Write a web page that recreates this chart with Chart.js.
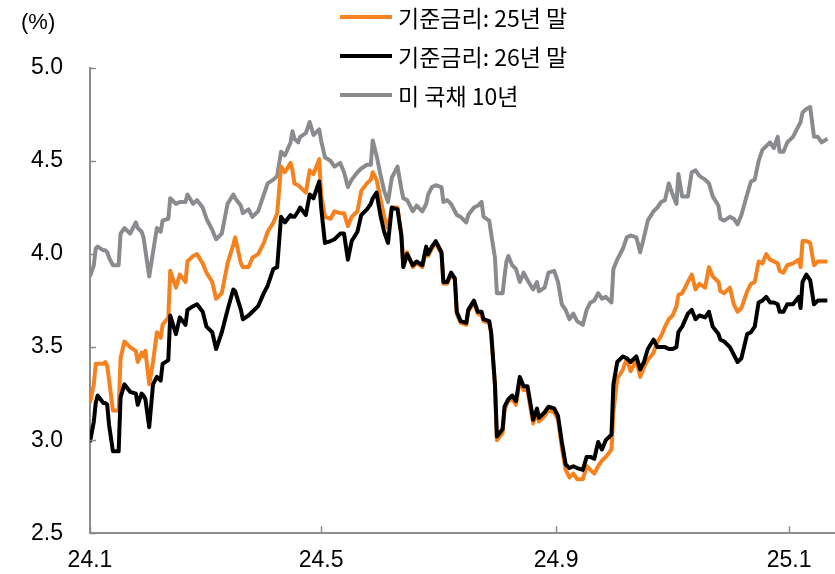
<!DOCTYPE html>
<html>
<head>
<meta charset="utf-8">
<script src="https://cdn.jsdelivr.net/npm/chart.js@4.4.0/dist/chart.umd.min.js"></script>
<style>
  html, body { margin: 0; padding: 0; background: #fff; }
  #wrap { position: relative; width: 835px; height: 574px; }
  #unit { position: absolute; left: 21px; top: 9px; font: 22px "Liberation Sans", Arial, sans-serif; color: #000; }
  #legend { position: absolute; left: 340px; top: 0; font: 23px "Noto Sans CJK KR", sans-serif; color: #000; }
  .item { position: absolute; left: 0; height: 30px; display: flex; align-items: center; white-space: nowrap; }
  .swatch { width: 52px; height: 4px; margin-right: 6px; }
</style>
</head>
<body>
<div id="wrap">
  <canvas id="lineCanvas" width="835" height="574"></canvas>
  <div id="unit">(%)</div>
  <div id="legend"></div>
</div>
<script>
// days counted from 2024-01-01
const days = [
  0,2,3,4,7,8,9,10,12,15,16,18,21,24,25,27,28,29,31,33,35,37,38,41,42,45,47,50,51,54,
  56,59,61,64,66,69,72,75,76,79,80,83,85,88,91,93,96,98,100,102,105,106,107,109,110,
  113,115,117,120,121,123,126,128,131,133,135,137,140,142,145,147,148,150,152,154,156,158,161,163,164,166,
  169,171,174,176,177,179,181,184,185,187,189,191,192,194,197,198,201,203,205,206,209,210,212,213,216,217,218,219,221,223,
  225,227,229,232,234,235,238,240,243,245,247,249,251,253,255,258,260,262,264,266,268,270,273,274,276,279,
  281,283,286,288,290,292,295,297,299,301,303,305,307,308,310,313,315,317,319,322,324,326,329,330,332,335,
  337,339,341,344,346,348,350,352,354,356,358,360,361,363,365,368,371,372,373,375,377,379,381,383,386
];

const rateEnd25 = [
  3.20,3.30,3.41,3.41,3.41,3.42,3.40,3.32,3.16,3.16,3.44,3.53,3.50,3.48,3.42,3.47,3.45,3.48,3.30,3.42,3.58,3.55,3.62,3.66,3.91,3.82,3.89,3.85,3.96,3.99,
  4.00,3.95,3.90,3.85,3.76,3.79,3.95,4.05,4.09,3.95,3.93,3.93,3.98,4.00,4.06,4.12,4.17,4.22,4.47,4.44,4.49,4.45,4.38,4.37,4.36,
  4.33,4.45,4.43,4.51,4.32,4.20,4.19,4.23,4.22,4.22,4.15,4.20,4.23,4.34,4.38,4.40,4.44,4.40,4.30,4.20,4.14,4.25,4.25,4.10,3.94,4.01,
  3.93,3.95,3.93,4.03,3.99,4.03,4.06,4.00,3.84,3.84,3.89,3.86,3.68,3.63,3.62,3.69,3.74,3.68,3.67,3.64,3.63,3.57,3.29,3.00,3.04,3.16,3.19,3.21,3.22,3.19,
  3.32,3.27,3.27,3.09,3.15,3.10,3.13,3.16,3.15,3.11,2.96,2.84,2.80,2.82,2.79,2.79,2.86,2.84,2.82,2.86,2.89,2.91,2.95,3.15,3.33,3.38,
  3.44,3.37,3.43,3.34,3.39,3.43,3.47,3.53,3.56,3.61,3.65,3.67,3.72,3.78,3.79,3.85,3.89,3.81,3.84,3.82,3.93,3.88,3.85,3.80,3.79,3.82,
  3.73,3.69,3.71,3.80,3.84,3.85,3.96,3.95,4.00,3.97,3.96,3.95,3.91,3.90,3.94,3.95,3.97,3.93,4.07,4.07,4.06,3.94,3.96,3.96,3.96
];

const rateEnd26 = [
  2.99,3.10,3.20,3.24,3.20,3.20,3.19,3.08,2.94,2.94,3.23,3.30,3.26,3.25,3.19,3.25,3.24,3.22,3.07,3.30,3.34,3.32,3.41,3.43,3.67,3.57,3.66,3.62,3.70,3.72,
  3.73,3.69,3.61,3.58,3.49,3.58,3.70,3.81,3.80,3.70,3.65,3.67,3.69,3.72,3.79,3.83,3.92,3.93,4.20,4.17,4.21,4.20,4.20,4.23,4.25,
  4.21,4.32,4.30,4.39,4.25,4.06,4.07,4.08,4.11,4.11,3.97,4.07,4.12,4.21,4.24,4.27,4.30,4.33,4.21,4.12,4.06,4.25,4.24,4.10,3.93,4.00,
  3.94,3.96,3.94,4.04,4.00,4.04,4.07,4.01,3.85,3.85,3.90,3.87,3.69,3.64,3.63,3.70,3.75,3.69,3.69,3.65,3.64,3.58,3.30,3.02,3.06,3.18,3.20,3.22,3.24,3.21,
  3.34,3.29,3.29,3.11,3.17,3.12,3.15,3.18,3.17,3.13,2.99,2.87,2.85,2.86,2.85,2.84,2.91,2.91,2.90,2.99,2.95,3.00,3.03,3.30,3.42,3.45,
  3.44,3.42,3.45,3.38,3.42,3.49,3.54,3.50,3.50,3.50,3.49,3.49,3.50,3.58,3.61,3.68,3.70,3.65,3.67,3.66,3.69,3.61,3.57,3.54,3.53,3.50,
  3.46,3.42,3.44,3.57,3.58,3.61,3.74,3.75,3.77,3.74,3.74,3.73,3.69,3.69,3.73,3.73,3.77,3.71,3.85,3.89,3.86,3.73,3.75,3.75,3.75
];

const ust10y = [
  3.88,3.94,4.03,4.04,4.02,4.02,4.01,3.98,3.94,3.94,4.11,4.14,4.11,4.17,4.14,4.12,4.09,4.02,3.88,4.01,4.14,4.12,4.18,4.19,4.30,4.27,4.28,4.28,4.32,4.27,
  4.29,4.25,4.19,4.13,4.08,4.11,4.27,4.32,4.30,4.26,4.22,4.24,4.20,4.23,4.32,4.38,4.40,4.42,4.55,4.53,4.60,4.66,4.62,4.60,4.63,
  4.65,4.71,4.64,4.67,4.61,4.52,4.50,4.47,4.49,4.44,4.36,4.40,4.44,4.46,4.48,4.48,4.61,4.53,4.43,4.34,4.28,4.41,4.47,4.35,4.30,4.29,
  4.23,4.26,4.23,4.27,4.32,4.36,4.37,4.36,4.28,4.29,4.27,4.23,4.21,4.20,4.17,4.21,4.25,4.26,4.28,4.20,4.18,4.11,3.98,3.79,3.79,3.88,3.96,3.99,3.94,3.92,
  3.85,3.90,3.86,3.81,3.85,3.80,3.82,3.90,3.91,3.85,3.73,3.70,3.65,3.68,3.64,3.62,3.70,3.74,3.75,3.79,3.76,3.77,3.74,3.92,3.97,4.03,
  4.09,4.10,4.09,4.01,4.09,4.18,4.23,4.25,4.28,4.29,4.38,4.32,4.27,4.43,4.31,4.31,4.44,4.45,4.42,4.40,4.38,4.31,4.26,4.19,4.18,4.20,
  4.19,4.16,4.21,4.32,4.39,4.40,4.50,4.56,4.58,4.60,4.57,4.63,4.55,4.55,4.60,4.63,4.69,4.71,4.76,4.78,4.79,4.63,4.63,4.60,4.62
];

const seriesNames = ["기준금리: 25년 말", "기준금리: 26년 말", "미 국채 10년"];
const seriesColors = ["#f5821f", "#000000", "#898b8e"];

const xTickDays = [0, 121, 244, 366];
const xTickLabels = ["24.1", "24.5", "24.9", "25.1"];
const yTicks = [2.5, 3.0, 3.5, 4.0, 4.5, 5.0];

const axisColor = "#8c8c8c";

const toPoints = vals => vals.map((v, i) => ({ x: days[i], y: v }));

// legend as html, stacked like the original
const legendBox = document.getElementById('legend');
seriesNames.forEach((name, i) => {
    const item = document.createElement('div');
    item.className = 'item';
    item.style.top = (2 + i * 39) + 'px';
    item.innerHTML = '<span class="swatch" style="background:' + seriesColors[i] + '"></span><span>' + name + '</span>';
    legendBox.appendChild(item);
});

// small ticks pointing into the plot
const innerTicks = {
    id: 'innerTicks',
    afterDraw(chart) {
        const { ctx, chartArea: a, scales: { x, y } } = chart;
        ctx.save();
        ctx.strokeStyle = axisColor;
        ctx.lineWidth = 1.5;
        ctx.beginPath();
        y.ticks.forEach(t => {
            const py = Math.round(y.getPixelForValue(t.value)) + 0.5;
            ctx.moveTo(a.left, py);
            ctx.lineTo(a.left + 6, py);
        });
        x.ticks.forEach(t => {
            const px = Math.round(x.getPixelForValue(t.value)) + 0.5;
            ctx.moveTo(px, a.bottom);
            ctx.lineTo(px, a.bottom - 7);
        });
        ctx.stroke();
        ctx.restore();
    }
};

Chart.defaults.font.family = '"Liberation Sans", Arial, sans-serif';
Chart.defaults.font.size = 23;
Chart.defaults.color = '#000';

const lineCanvas = document.getElementById('lineCanvas');

const lineChart = new Chart(lineCanvas, {
    type: "line",
    data: {
        datasets: [
            { label: seriesNames[0], data: toPoints(rateEnd25), borderColor: seriesColors[0], order: 1 },
            { label: seriesNames[1], data: toPoints(rateEnd26), borderColor: seriesColors[1], order: 0 },
            { label: seriesNames[2], data: toPoints(ust10y), borderColor: seriesColors[2], order: 2 },
        ]
    },
    options: {
        responsive: false,
        animation: false,
        devicePixelRatio: 1,
        layout: { padding: { top: 68, right: 0, left: 0, bottom: 0 } },
        elements: {
            point: { radius: 0 },
            line: { borderWidth: 4, tension: 0, borderJoinStyle: 'round' }
        },
        plugins: {
            legend: { display: false },
            tooltip: { enabled: false }
        },
        scales: {
            x: {
                type: 'linear',
                min: 0,
                max: 390,
                afterBuildTicks: s => { s.ticks = xTickDays.map(v => ({ value: v })); },
                afterFit: s => { s.height = 40; },
                ticks: {
                    autoSkip: false,
                    maxRotation: 0,
                    padding: 14,
                    callback: v => xTickLabels[xTickDays.indexOf(v)]
                },
                grid: { drawOnChartArea: false, drawTicks: false },
                border: { color: axisColor, width: 2 }
            },
            y: {
                min: 2.5,
                max: 5.0,
                afterBuildTicks: s => { s.ticks = yTicks.map(v => ({ value: v })); },
                afterFit: s => { s.width = 90; },
                ticks: {
                    padding: 27,
                    callback: v => v.toFixed(1)
                },
                grid: { drawOnChartArea: false, drawTicks: false },
                border: { color: axisColor, width: 2 }
            }
        }
    },
    plugins: [innerTicks]
});
</script>
</body>
</html>
